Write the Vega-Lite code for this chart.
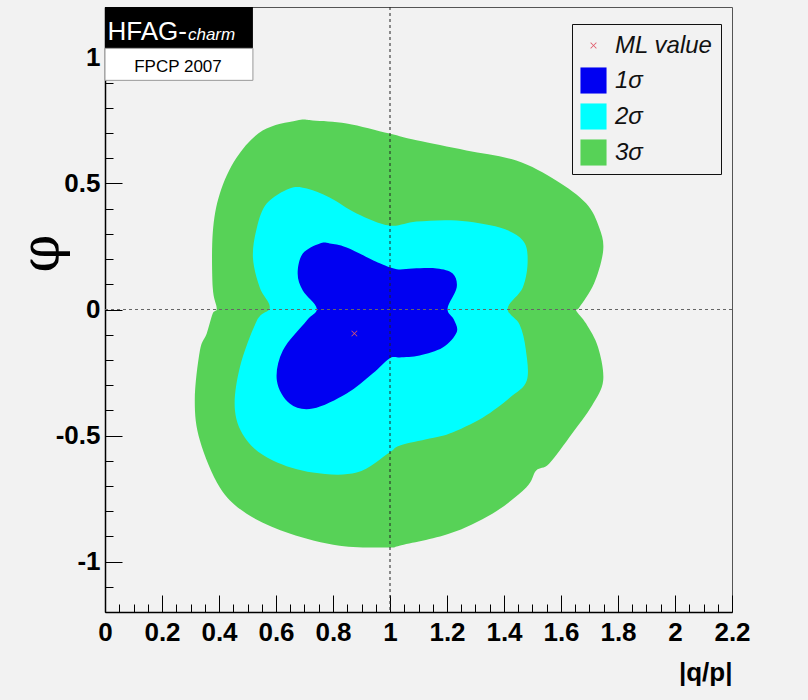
{
 "$schema": "https://vega.github.io/schema/vega-lite/v6.json",
 "width": 627,
 "height": 605,
 "autosize": {"type": "none"},
 "padding": {"left": 105, "top": 7, "right": 76, "bottom": 88},
 "background": "#f2f2f2",
 "config": {"view": {"stroke": "#555", "strokeWidth": 1}, "font": "Liberation Sans"},
 "resolve": {"axis": {"x": "independent", "y": "independent"}},
 "datasets": {
  "c3": [
   {"i":0,"q":0.729,"phi":0.750},{"i":1,"q":0.848,"phi":0.738},{"i":2,"q":0.998,"phi":0.698},{"i":3,"q":1.093,"phi":0.671},
   {"i":4,"q":1.268,"phi":0.631},{"i":5,"q":1.443,"phi":0.591},{"i":6,"q":1.583,"phi":0.512},{"i":7,"q":1.688,"phi":0.421},
   {"i":8,"q":1.734,"phi":0.325},{"i":9,"q":1.748,"phi":0.234},{"i":10,"q":1.716,"phi":0.103},{"i":11,"q":1.664,"phi":0.008},
   {"i":12,"q":1.653,"phi":-0.004},{"i":13,"q":1.688,"phi":-0.056},{"i":14,"q":1.730,"phi":-0.150},{"i":15,"q":1.748,"phi":-0.282},
   {"i":16,"q":1.709,"phi":-0.381},{"i":17,"q":1.639,"phi":-0.492},{"i":18,"q":1.559,"phi":-0.611},{"i":19,"q":1.513,"phi":-0.639},
   {"i":20,"q":1.478,"phi":-0.706},{"i":21,"q":1.359,"phi":-0.810},{"i":22,"q":1.209,"phi":-0.889},{"i":23,"q":1.033,"phi":-0.937},
   {"i":24,"q":0.998,"phi":-0.944},{"i":25,"q":0.823,"phi":-0.937},{"i":26,"q":0.648,"phi":-0.889},{"i":27,"q":0.497,"phi":-0.810},
   {"i":28,"q":0.403,"phi":-0.706},{"i":29,"q":0.333,"phi":-0.520},{"i":30,"q":0.315,"phi":-0.361},{"i":31,"q":0.333,"phi":-0.163},
   {"i":32,"q":0.357,"phi":-0.095},{"i":33,"q":0.378,"phi":-0.016},{"i":34,"q":0.392,"phi":0.004},{"i":35,"q":0.378,"phi":0.087},
   {"i":36,"q":0.378,"phi":0.302},{"i":37,"q":0.403,"phi":0.460},{"i":38,"q":0.462,"phi":0.603},{"i":39,"q":0.553,"phi":0.710},
   {"i":40,"q":0.673,"phi":0.750}
  ],
  "c2": [
   {"i":0,"q":0.708,"phi":0.480},{"i":1,"q":0.788,"phi":0.444},{"i":2,"q":0.883,"phi":0.381},{"i":3,"q":0.998,"phi":0.333},
   {"i":4,"q":1.093,"phi":0.349},{"i":5,"q":1.234,"phi":0.353},{"i":6,"q":1.385,"phi":0.325},{"i":7,"q":1.466,"phi":0.274},
   {"i":8,"q":1.483,"phi":0.194},{"i":9,"q":1.466,"phi":0.087},{"i":10,"q":1.413,"phi":0.004},{"i":11,"q":1.455,"phi":-0.060},
   {"i":12,"q":1.476,"phi":-0.155},{"i":13,"q":1.480,"phi":-0.282},{"i":14,"q":1.420,"phi":-0.350},{"i":15,"q":1.325,"phi":-0.429},
   {"i":16,"q":1.209,"phi":-0.492},{"i":17,"q":1.139,"phi":-0.512},{"i":18,"q":1.033,"phi":-0.540},{"i":19,"q":0.998,"phi":-0.567},
   {"i":20,"q":0.883,"phi":-0.647},{"i":21,"q":0.729,"phi":-0.647},{"i":22,"q":0.589,"phi":-0.599},{"i":23,"q":0.498,"phi":-0.520},
   {"i":24,"q":0.456,"phi":-0.401},{"i":25,"q":0.473,"phi":-0.230},{"i":26,"q":0.533,"phi":-0.044},{"i":27,"q":0.578,"phi":0.008},
   {"i":28,"q":0.543,"phi":0.087},{"i":29,"q":0.519,"phi":0.206},{"i":30,"q":0.533,"phi":0.325},{"i":31,"q":0.568,"phi":0.421},
   {"i":32,"q":0.648,"phi":0.480}
  ],
  "c1": [
   {"i":0,"q":0.754,"phi":0.262},{"i":1,"q":0.789,"phi":0.262},{"i":2,"q":0.848,"phi":0.246},{"i":3,"q":0.964,"phi":0.183},
   {"i":4,"q":1.024,"phi":0.160},{"i":5,"q":1.080,"phi":0.163},{"i":6,"q":1.164,"phi":0.163},{"i":7,"q":1.220,"phi":0.143},
   {"i":8,"q":1.234,"phi":0.087},{"i":9,"q":1.202,"phi":0.004},{"i":10,"q":1.224,"phi":-0.040},{"i":11,"q":1.234,"phi":-0.090},
   {"i":12,"q":1.185,"phi":-0.151},{"i":13,"q":1.104,"phi":-0.182},{"i":14,"q":1.034,"phi":-0.190},{"i":15,"q":0.998,"phi":-0.194},
   {"i":16,"q":0.939,"phi":-0.254},{"i":17,"q":0.848,"phi":-0.333},{"i":18,"q":0.729,"phi":-0.393},{"i":19,"q":0.648,"phi":-0.373},
   {"i":20,"q":0.603,"phi":-0.282},{"i":21,"q":0.624,"phi":-0.163},{"i":22,"q":0.708,"phi":-0.044},{"i":23,"q":0.743,"phi":0.004},
   {"i":24,"q":0.694,"phi":0.075},{"i":25,"q":0.676,"phi":0.143},{"i":26,"q":0.694,"phi":0.222}
  ]
 },
 "layer": [
  {
   "data": {"name": "c3"},
   "mark": {"type": "line", "filled": true, "color": "#57d257", "interpolate": "cardinal-closed"},
   "encoding": {
    "x": {"field": "q", "type": "quantitative", "scale": {"domain": [0, 2.2], "nice": false, "zero": false},
     "axis": {"orient": "bottom", "values": [0,0.2,0.4,0.6,0.8,1,1.2,1.4,1.6,1.8,2,2.2], "labelExpr": "toString(datum.value)",
      "tickSize": -17, "tickColor": "#000", "tickWidth": 1, "domainColor": "#000", "domainWidth": 1.5,
      "labelFontSize": 26, "labelFontWeight": "bold", "labelColor": "#000", "labelPadding": 24,
      "labelOverlap": false, "labelFlush": false, "labelBound": false, "grid": false,
      "title": "|q/p|", "titleFontSize": 26, "titleFontWeight": "bold", "titleColor": "#000",
      "titleAnchor": "end", "titleAlign": "right", "titlePadding": 14}},
    "y": {"field": "phi", "type": "quantitative", "scale": {"domain": [-1.2, 1.2], "nice": false, "zero": false},
     "axis": {"orient": "left", "values": [-1,-0.5,0,0.5,1], "labelExpr": "toString(datum.value)",
      "tickSize": -17, "tickColor": "#000", "tickWidth": 1, "domainColor": "#000", "domainWidth": 1.5,
      "labelFontSize": 26, "labelFontWeight": "bold", "labelColor": "#000", "labelPadding": 22,
      "labelOverlap": false, "labelBound": false, "grid": false,
      "title": "φ", "titleFont": "DejaVu Serif", "titleFontSize": 54, "titleFontWeight": "normal", "titleColor": "#000",
      "titleAngle": 270, "titleX": -63, "titleY": 246, "titleAlign": "center", "titleBaseline": "middle"}},
    "order": {"field": "i", "type": "quantitative"}
   }
  },
  {
   "data": {"name": "c2"},
   "mark": {"type": "line", "filled": true, "color": "#00ffff", "interpolate": "cardinal-closed"},
   "encoding": {
    "x": {"field": "q", "type": "quantitative",
     "axis": {"orient": "bottom", "values": [0.05,0.1,0.15,0.25,0.3,0.35,0.45,0.5,0.55,0.65,0.7,0.75,0.85,0.9,0.95,1.05,1.1,1.15,1.25,1.3,1.35,1.45,1.5,1.55,1.65,1.7,1.75,1.85,1.9,1.95,2.05,2.1,2.15],
      "tickSize": -8, "tickColor": "#000", "labels": false, "domain": false, "grid": false, "title": null}},
    "y": {"field": "phi", "type": "quantitative",
     "axis": {"orient": "left", "values": [-1.1,-0.9,-0.8,-0.7,-0.6,-0.4,-0.3,-0.2,-0.1,0.1,0.2,0.3,0.4,0.6,0.7,0.8,0.9,1.1],
      "tickSize": -8, "tickColor": "#000", "labels": false, "domain": false, "grid": false, "title": null}},
    "order": {"field": "i", "type": "quantitative"}
   }
  },
  {
   "data": {"name": "c1"},
   "mark": {"type": "line", "filled": true, "color": "#0000f2", "interpolate": "cardinal-closed"},
   "encoding": {
    "x": {"field": "q", "type": "quantitative", "axis": null},
    "y": {"field": "phi", "type": "quantitative", "axis": null},
    "order": {"field": "i", "type": "quantitative"}
   }
  },
  {
   "data": {"values": [{"q": 1}]},
   "mark": {"type": "rule", "color": "#222", "strokeDash": [3, 3], "strokeWidth": 1},
   "encoding": {"x": {"field": "q", "type": "quantitative", "axis": null}}
  },
  {
   "data": {"values": [{"phi": 0}]},
   "mark": {"type": "rule", "color": "#666", "strokeDash": [3, 3], "strokeWidth": 1},
   "encoding": {"y": {"field": "phi", "type": "quantitative", "axis": null}}
  },
  {
   "data": {"values": [{"q": 0.875, "phi": -0.095, "label": "ML value"}]},
   "mark": {"type": "point", "filled": true, "size": 650, "opacity": 1},
   "encoding": {
    "x": {"field": "q", "type": "quantitative", "axis": null},
    "y": {"field": "phi", "type": "quantitative", "axis": null},
    "color": {"field": "label", "type": "nominal",
     "scale": {"domain": ["ML value", "1σ", "2σ", "3σ"], "range": ["#e05a6a", "#0000f2", "#00ffff", "#57d257"]},
     "legend": {"orient": "none", "legendX": 467, "legendY": 17, "title": null, "fillColor": "#f2f2f2", "strokeColor": "#111",
      "padding": 8, "rowPadding": 9, "symbolSize": 680, "labelFontSize": 24, "labelFontStyle": "italic", "labelFont": "Liberation Sans",
      "labelColor": "#111", "labelOffset": 8, "symbolStrokeWidth": 0, "symbolOpacity": 1, "labelLimit": 200}},
    "shape": {"field": "label", "type": "nominal",
     "scale": {"domain": ["ML value", "1σ", "2σ", "3σ"], "range": ["M-0.24,-0.2L-0.2,-0.24L0,-0.04L0.2,-0.24L0.24,-0.2L0.04,0L0.24,0.2L0.2,0.24L0,0.04L-0.2,0.24L-0.24,0.2L-0.04,0Z", "square", "square", "square"]},
     "legend": {"orient": "none", "legendX": 467, "legendY": 17, "title": null, "fillColor": "#f2f2f2", "strokeColor": "#111",
      "padding": 8, "rowPadding": 9, "symbolSize": 680, "labelFontSize": 24, "labelFontStyle": "italic", "labelFont": "Liberation Sans",
      "labelColor": "#111", "labelOffset": 8, "symbolStrokeWidth": 0, "symbolOpacity": 1, "labelLimit": 200}}
   }
  },
  {
   "data": {"values": [{"x0": 0, "x1": 0.519, "y0": 1.036, "y1": 1.2}]},
   "mark": {"type": "rect", "color": "#000"},
   "encoding": {
    "x": {"field": "x0", "type": "quantitative", "axis": null}, "x2": {"field": "x1"},
    "y": {"field": "y0", "type": "quantitative", "axis": null}, "y2": {"field": "y1"}
   }
  },
  {
   "data": {"values": [{"x0": 0, "x1": 0.519, "y0": 0.909, "y1": 1.036}]},
   "mark": {"type": "rect", "fill": "#fff", "stroke": "#999", "strokeWidth": 1},
   "encoding": {
    "x": {"field": "x0", "type": "quantitative", "axis": null}, "x2": {"field": "x1"},
    "y": {"field": "y0", "type": "quantitative", "axis": null}, "y2": {"field": "y1"}
   }
  },
  {
   "data": {"values": [{"q": 0.2875, "phi": 1.071, "t": "HFAG-"}]},
   "mark": {"type": "text", "align": "right", "baseline": "alphabetic", "fontSize": 26, "color": "#fff", "font": "Liberation Sans"},
   "encoding": {
    "x": {"field": "q", "type": "quantitative", "axis": null},
    "y": {"field": "phi", "type": "quantitative", "axis": null},
    "text": {"field": "t"}
   }
  },
  {
   "data": {"values": [{"q": 0.291, "phi": 1.071, "t": "charm"}]},
   "mark": {"type": "text", "align": "left", "baseline": "alphabetic", "fontSize": 17, "fontStyle": "italic", "color": "#fff", "font": "Liberation Sans"},
   "encoding": {
    "x": {"field": "q", "type": "quantitative", "axis": null},
    "y": {"field": "phi", "type": "quantitative", "axis": null},
    "text": {"field": "t"}
   }
  },
  {
   "data": {"values": [{"q": 0.256, "phi": 0.944, "t": "FPCP 2007"}]},
   "mark": {"type": "text", "align": "center", "baseline": "alphabetic", "fontSize": 17, "color": "#000", "font": "Liberation Sans"},
   "encoding": {
    "x": {"field": "q", "type": "quantitative", "axis": null},
    "y": {"field": "phi", "type": "quantitative", "axis": null},
    "text": {"field": "t"}
   }
  }
 ]
}
